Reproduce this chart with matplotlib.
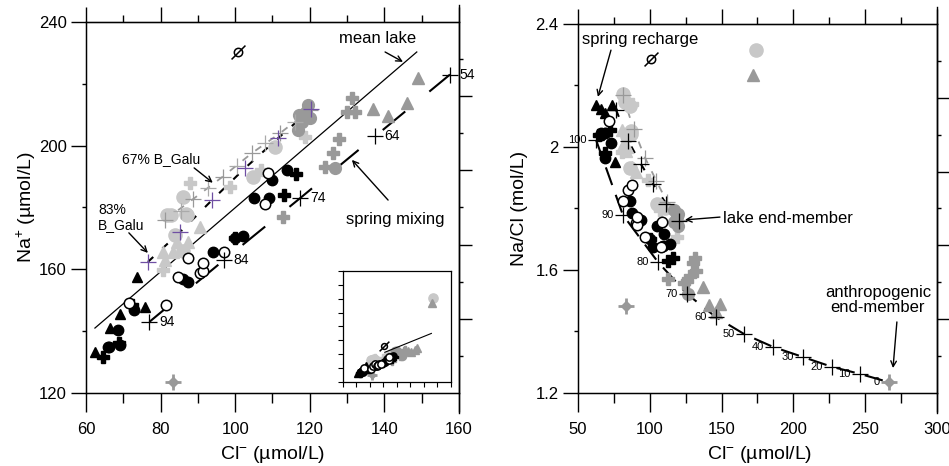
import numpy as np
import matplotlib.pyplot as plt
from matplotlib.ticker import MultipleLocator, FixedLocator, FuncFormatter
from matplotlib.path import Path

plt.rcParams['font.family'] = ['Liberation Sans', 'DejaVu Sans']
plt.rcParams['mathtext.fontset'] = 'custom'
plt.rcParams['mathtext.rm'] = 'Liberation Sans'
plt.rcParams['mathtext.it'] = 'Liberation Sans:italic'

# ---- samples: Cl (umol/L), Na (umol/L) ----
blk_circle_cl = [66, 66.2, 68.6, 69, 73, 86, 87.3, 94, 100, 102, 105, 109, 110, 114]
blk_circle_na = [135, 134.9, 140.4, 135.6, 147, 157, 156, 165.6, 170, 170.8, 183, 183, 189, 192]
blk_tri_cl = [62.4, 66.4, 69, 73.7, 75.8]
blk_tri_na = [133.3, 141, 145.6, 157.5, 147.8]
blk_plus_cl = [64.5, 68.8, 72.3, 100, 113, 116.3]
blk_plus_na = [131.5, 136.2, 148.5, 170, 184, 190.8]
open_cl = [71.5, 81.4, 84.7, 87.3, 90.6, 91.4, 91.4, 97, 108, 108.8]
open_na = [149.1, 148.5, 157.5, 163.7, 158.8, 159.5, 162, 165.6, 181, 191]
dg_circle_cl = [116.8, 117, 118, 119, 119.5, 120, 126.8]
dg_circle_na = [205, 210, 207.5, 211, 213, 209, 192.8]
dg_tri_cl = [137, 141, 146, 149, 172]
dg_tri_na = [211.8, 209.6, 213.8, 222, 384]
dg_plus_cl = [112.8, 124, 126.2, 127.8, 130, 131.3, 132.1]
dg_plus_na = [177, 193, 197.6, 202, 211, 215.4, 211]
dg_star_cl = [83.3]
dg_star_na = [123.6]
lg_circle_cl = [81.7, 82.8, 84, 86, 86, 86.8, 87, 104.8, 110.7, 174]
lg_circle_na = [177.6, 177.6, 171, 166, 183.4, 178, 177.6, 190, 199.6, 403]
lg_tri_cl = [80.6, 81.2, 83.3, 84.4, 87.3, 90.6]
lg_tri_na = [165.6, 163, 165.6, 168.8, 168.8, 173.7]
lg_plus_cl = [80.6, 87.8, 98.6, 107, 118.7]
lg_plus_na = [159.8, 188, 186.6, 192, 202.8]
odd_cl = [100.8]
odd_na = [230.3]

# ---- mixing models (left panel) ----
b83_cl = [76.6, 85.2, 93.8, 102.6, 111.5, 120.3]
b83_na = [162.4, 172, 182.4, 192.7, 202.4, 211.8]
b67_cl = [81.2, 88.7, 96.7, 104.5, 112, 120]
b67_na = [176, 182.7, 190, 197.6, 204, 211.5]
b67_extra_cl = [85.5, 92.7, 100.5, 108, 116]
b67_extra_na = [179, 186.3, 193.5, 200.8, 207.7]
spring_cl = [77, 97, 117.4, 137.5, 157.6]
spring_na = [143, 163, 183, 203, 223]
spring_labels = ['94', '84', '74', '64', '54']
lake_cl = [62.4, 148.7]
lake_na = [141, 230.3]
inset_line_cl = [102, 171]
inset_line_na = [207, 275]

# ---- mixing model (right panel) ----
anth_cl = [62.6, 81.3, 105.7, 126, 146, 165.6, 185.8, 206.7, 226.9, 246.4, 266.6]
anth_ratio = [2.023, 1.779, 1.626, 1.522, 1.447, 1.392, 1.35, 1.317, 1.285, 1.262, 1.235]
anth_labels = ['100', '90', '80', '70', '60', '50', '40', '30', '20', '10', '0']

right_long = [0.2, 0.4, 0.6, 0.8]
right_short = [0.1, 0.3, 0.5, 0.7, 0.9]

LG = '#c8c8c8'
DG = '#999999'
PURPLE = '#6f4fa3'
slash = Path([(-1, -1), (1, 1)], [Path.MOVETO, Path.LINETO])

groups = [
    (lg_circle_cl, lg_circle_na, dict(marker='o', ms=9.5, mfc=LG, mec=LG)),
    (lg_tri_cl, lg_tri_na, dict(marker='^', ms=8, mfc=LG, mec=LG)),
    (lg_plus_cl, lg_plus_na, dict(marker='P', ms=8, mfc=LG, mec=LG)),
    (dg_circle_cl, dg_circle_na, dict(marker='o', ms=8.5, mfc=DG, mec=DG)),
    (dg_tri_cl, dg_tri_na, dict(marker='^', ms=8, mfc=DG, mec=DG)),
    (dg_plus_cl, dg_plus_na, dict(marker='P', ms=8, mfc=DG, mec=DG)),
    (dg_star_cl, dg_star_na, dict(marker='D', ms=5, mfc=DG, mec=DG)),
    (dg_star_cl, dg_star_na, dict(marker='+', ms=11, mew=2, mec=DG)),
    (blk_circle_cl, blk_circle_na, dict(marker='o', ms=7.5, mfc='black', mec='black')),
    (blk_tri_cl, blk_tri_na, dict(marker='^', ms=7.5, mfc='black', mec='black')),
    (blk_plus_cl, blk_plus_na, dict(marker='P', ms=8, mfc='black', mec='black')),
    (open_cl, open_na, dict(marker='o', ms=7.5, mfc='white', mec='black', mew=1.1)),
    (odd_cl, odd_na, dict(marker='o', ms=6, mfc='none', mec='black', mew=1.1)),
    (odd_cl, odd_na, dict(marker=slash, ms=10, mec='black', mew=1.1)),
]


def draw_samples(ax, ratio=False, scale=1.0):
    for cl, na, st in groups:
        y = np.array(na) / np.array(cl) if ratio else na
        st = dict(st)
        st['ms'] = st['ms'] * scale
        ax.plot(cl, y, ls='none', **st)


def style_axes(ax, xlim, ylim, xmaj, xmin, ymaj, ymin):
    ax.set_xlim(*xlim)
    ax.set_ylim(*ylim)
    ax.xaxis.set_major_locator(MultipleLocator(xmaj))
    ax.xaxis.set_minor_locator(MultipleLocator(xmin))
    ax.yaxis.set_major_locator(MultipleLocator(ymaj))
    ax.yaxis.set_minor_locator(MultipleLocator(ymin))
    fmt = FuncFormatter(lambda v, p: f'{v:g}')
    ax.xaxis.set_major_formatter(fmt)
    ax.yaxis.set_major_formatter(fmt)
    ax.tick_params(axis='x', which='major', direction='out', length=14, width=1, pad=7, labelsize=12)
    ax.tick_params(axis='x', which='minor', direction='out', length=7, width=1)
    ax.tick_params(axis='y', which='major', direction='out', length=11, width=1, pad=3, labelsize=12)
    ax.tick_params(axis='y', which='minor', direction='out', length=3, width=1)
    for s in ax.spines.values():
        s.set_linewidth(1)
    top = ax.secondary_xaxis('top')
    top.xaxis.set_major_locator(MultipleLocator(xmaj))
    top.xaxis.set_minor_locator(MultipleLocator(xmin))
    top.tick_params(which='major', direction='out', length=11, width=1, labeltop=False)
    top.tick_params(which='minor', direction='out', length=5, width=1)
    tw = ax.twinx()
    tw.set_ylim(0, 1)
    tw.yaxis.set_major_locator(FixedLocator(right_long))
    tw.yaxis.set_minor_locator(FixedLocator(right_short))
    tw.tick_params(which='major', direction='out', length=9.5, width=1, labelright=False)
    tw.tick_params(which='minor', direction='out', length=3, width=1)
    ax.plot([1, 1], [-0.055, 1.045], transform=ax.transAxes, color='black', lw=1, clip_on=False)


fig = plt.figure(figsize=(9.49, 4.66), dpi=100)

# ---------------- left panel ----------------
axL = fig.add_axes([0.0906, 0.1567, 0.3930, 0.7961])
axL.plot(lake_cl, lake_na, color='black', lw=0.9)
axL.plot(b67_cl, b67_na, color=DG, lw=1.3, ls=(0, (4, 5)))
axL.plot(b83_cl, b83_na, color='black', lw=1.5, ls=(0, (3.5, 6)))
axL.plot(spring_cl, spring_na, color='black', lw=1.5, ls=(0, (14, 15)))
draw_samples(axL)
axL.plot(b67_cl, b67_na, ls='none', marker='+', ms=11, mew=0.9, mec=DG)
axL.plot(b67_extra_cl, b67_extra_na, ls='none', marker='+', ms=11, mew=0.9, mec='#aaaaaa')
axL.plot(b83_cl, b83_na, ls='none', marker='+', ms=11, mew=0.9, mec=PURPLE)
axL.plot(spring_cl, spring_na, ls='none', marker='+', ms=11, mew=0.9, mec='black')
for x, y, t in zip(spring_cl, spring_na, spring_labels):
    axL.annotate(t, (x, y), xytext=(7, 0), textcoords='offset points',
                 ha='left', va='center', fontsize=10)
style_axes(axL, (60, 160), (120, 240), 20, 10, 40, 20)
axL.set_xlabel('Cl$^{-}$ (µmol/L)', fontsize=14)
axL.set_ylabel('Na$^{+}$ (µmol/L)', fontsize=14)
axL.xaxis.set_label_coords(0.5, -0.138)
axL.yaxis.set_label_coords(-0.128, 0.5)

arrow = dict(arrowstyle='->', color='black', lw=1, shrinkA=0, shrinkB=0)
axL.text(138.3, 234.8, 'mean lake', fontsize=12, ha='center', va='center')
axL.annotate('', xy=(145, 227.1), xytext=(140.2, 230.3), arrowprops=arrow)
axL.text(80.1, 195.7, '67% B_Galu', fontsize=10, ha='center', va='center')
axL.annotate('', xy=(94, 188), xytext=(89, 192.8), arrowprops=arrow)
axL.text(63.2, 176.8, '83%\nB_Galu', fontsize=10, ha='left', va='center', linespacing=1.05)
axL.annotate('', xy=(76.6, 165.3), xytext=(71.5, 171.8), arrowprops=arrow)
axL.text(142.8, 176, 'spring mixing', fontsize=12, ha='center', va='center')
axL.annotate('', xy=(131.3, 195.4), xytext=(141, 182.4), arrowprops=arrow)

# inset
ins = fig.add_axes([0.3614, 0.1803, 0.1138, 0.2382])
ins.set_xlim(40, 200)
ins.set_ylim(100, 500)
ins.xaxis.set_major_locator(MultipleLocator(20))
ins.yaxis.set_major_locator(MultipleLocator(50))
ins.tick_params(direction='out', length=3.6, width=0.8, labelbottom=False, labelleft=False)
for s in ins.spines.values():
    s.set_linewidth(0.9)
draw_samples(ins, scale=0.7)
ins.plot(inset_line_cl, inset_line_na, color='black', lw=0.8)

# ---------------- right panel ----------------
axR = fig.add_axes([0.609, 0.1567, 0.3783, 0.7918])
b67_ratio = np.array(b67_na) / np.array(b67_cl)
b83_ratio = np.array(b83_na) / np.array(b83_cl)
axR.plot(b67_cl, b67_ratio, color=DG, lw=1.3, ls=(0, (4, 5)))
axR.plot(b83_cl, b83_ratio, color='black', lw=1.5, ls=(0, (3.5, 6)))
axR.plot(anth_cl, anth_ratio, color='black', lw=1.5, ls=(0, (9, 5)))
draw_samples(axR, ratio=True)
axR.plot(b67_cl, b67_ratio, ls='none', marker='+', ms=11, mew=0.9, mec=DG)
axR.plot(b83_cl, b83_ratio, ls='none', marker='+', ms=11, mew=0.9, mec='black')
axR.plot(anth_cl[:-1], anth_ratio[:-1], ls='none', marker='+', ms=11, mew=0.9, mec='black')
axR.plot(anth_cl[-1:], anth_ratio[-1:], ls='none', marker='D', ms=5, mfc=DG, mec=DG)
axR.plot(anth_cl[-1:], anth_ratio[-1:], ls='none', marker='+', ms=11, mew=2, mec=DG)
for x, y, t in zip(anth_cl, anth_ratio, anth_labels):
    axR.annotate(t, (x, y), xytext=(-6.5, 0), textcoords='offset points',
                 ha='right', va='center', fontsize=8)
style_axes(axR, (50, 300), (1.2, 2.4), 50, 25, 0.4, 0.2)
axR.set_xlabel('Cl$^{-}$ (µmol/L)', fontsize=14)
axR.set_ylabel('Na/Cl (mol/L)', fontsize=14)
axR.xaxis.set_label_coords(0.507, -0.138)
axR.yaxis.set_label_coords(-0.138, 0.5)

axR.text(93.2, 2.348, 'spring recharge', fontsize=12, ha='center', va='center')
axR.annotate('', xy=(63.9, 2.163), xytext=(73, 2.315), arrowprops=arrow)
axR.text(196.2, 1.769, 'lake end-member', fontsize=12, ha='center', va='center')
axR.annotate('', xy=(124.5, 1.763), xytext=(148.9, 1.772), arrowprops=arrow)
axR.text(258.9, 1.502, 'anthropogenic\nend-member', fontsize=12, ha='center', va='center',
         linespacing=1.0)
axR.annotate('', xy=(269.4, 1.281), xytext=(272.1, 1.431), arrowprops=arrow)

fig.savefig('out.png', dpi=100)
